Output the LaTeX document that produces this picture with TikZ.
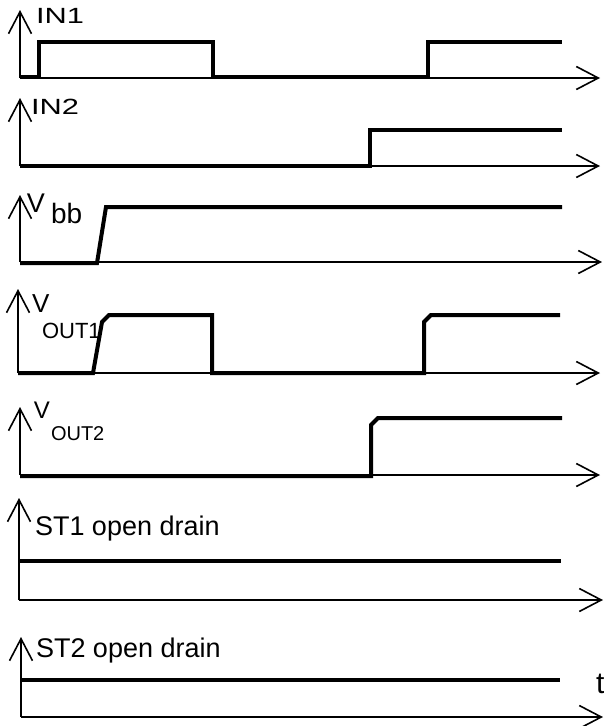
\documentclass[tikz,border=0pt]{standalone}
\usepackage{fontspec}
\setmainfont{Liberation Sans}
\usetikzlibrary{arrows.meta}
\tikzset{
  axisline/.style={line width=1.6pt, -{Straight Barb[length=22pt,width=23pt,line width=1.6pt]}},
  signal/.style={line width=4pt, line join=miter},
  lbl/.style={anchor=base west, inner sep=0pt, outer sep=0pt},
  widelbl/.style={lbl, xscale=1.4, font=\fs{22}},
}
\newcommand{\fs}[1]{\fontsize{#1}{#1}\selectfont}
\begin{document}
\begin{tikzpicture}[x=1pt,y=-1pt]
\useasboundingbox (0,0) rectangle (603,726);
% ---------- Panel 1: IN1
\coordinate (o1) at (20,78);
\coordinate (y1) at (20,10);
\coordinate (x1) at (600,78);
\draw[axisline] (o1) -- (y1);
\draw[axisline] (o1) -- (x1);
\draw[signal] (20,77) -- (39,77) -- (39,42) -- (213,42) -- (213,77) -- (428,77) -- (428,42) -- (562,42);
\node[widelbl] (l1) at (36,23) {IN1};
% ---------- Panel 2: IN2
\coordinate (o2) at (20,166);
\coordinate (y2) at (20,98);
\coordinate (x2) at (600,166);
\draw[axisline] (o2) -- (y2);
\draw[axisline] (o2) -- (x2);
\draw[signal] (20,166) -- (370,166) -- (370,130) -- (562,130);
\node[widelbl] (l2) at (31,114) {IN2};
% ---------- Panel 3: Vbb
\coordinate (o3) at (20,262);
\coordinate (y3) at (20,195);
\coordinate (x3) at (602,262);
\draw[axisline] (o3) -- (y3);
\draw[axisline] (o3) -- (x3);
\draw[signal] (20,263) -- (97,263) -- (106,207) -- (562,207);
\node[lbl, font=\fs{27}] (l3a) at (27,212) {V};
\node[lbl, font=\fs{28}] (l3b) at (51,223) {bb};
% ---------- Panel 4: VOUT1
\coordinate (o4) at (18,373);
\coordinate (y4) at (18,289);
\coordinate (x4) at (600,373);
\draw[axisline] (o4) -- (y4);
\draw[axisline] (o4) -- (x4);
\draw[signal] (18,373) -- (93,373) -- (102,322) -- (109,315) -- (212,315) -- (212,373) -- (424,373) -- (424,322) -- (431,315) -- (560,315);
\node[lbl, font=\fs{26}] (l4a) at (32,312) {V};
\node[lbl, font=\fs{22}] (l4b) at (42,338) {OUT1};
% ---------- Panel 5: VOUT2
\coordinate (o5) at (20,475);
\coordinate (y5) at (20,407);
\coordinate (x5) at (600,475);
\draw[axisline] (o5) -- (y5);
\draw[axisline] (o5) -- (x5);
\draw[signal] (20,476) -- (371,476) -- (371,425) -- (378,418) -- (562,418);
\node[lbl, font=\fs{24}] (l5a) at (34,418) {V};
\node[lbl, font=\fs{20}] (l5b) at (51,440) {OUT2};
% ---------- Panel 6: ST1
\coordinate (o6) at (19,600);
\coordinate (y6) at (19,498);
\coordinate (x6) at (603,600);
\draw[axisline] (o6) -- (y6);
\draw[axisline] (o6) -- (x6);
\draw[signal] (20,561) -- (561,561);
\node[lbl, font=\fs{27}] (l6) at (35,535) {ST1 open drain};
% ---------- Panel 7: ST2
\coordinate (o7) at (21,717);
\coordinate (y7) at (21,637);
\coordinate (x7) at (603,717);
\draw[axisline] (o7) -- (y7);
\draw[axisline] (o7) -- (x7);
\draw[signal] (21,680) -- (560,680);
\node[lbl, font=\fs{27}] (l7) at (36,657) {ST2 open drain};
\node[lbl, font=\fs{30}] (lt) at (596,693) {t};
\end{tikzpicture}
\end{document}
